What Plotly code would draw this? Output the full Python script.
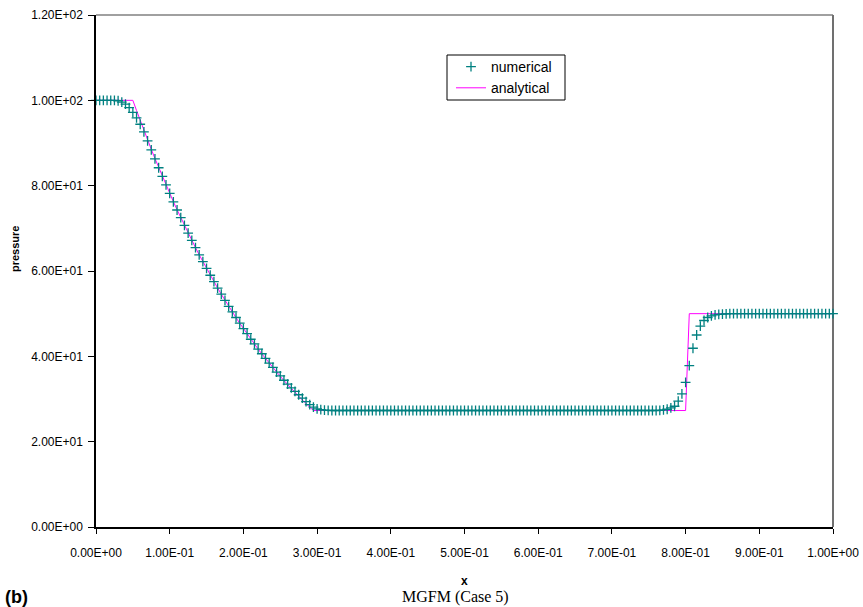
import numpy as np
import plotly.graph_objects as go

# ---------------- data ----------------
x_ticks = [0.0, 0.1, 0.2, 0.3, 0.4, 0.5, 0.6, 0.7, 0.8, 0.9, 1.0]
x_tick_labels = ["0.00E+00", "1.00E-01", "2.00E-01", "3.00E-01", "4.00E-01", "5.00E-01",
                 "6.00E-01", "7.00E-01", "8.00E-01", "9.00E-01", "1.00E+00"]
y_ticks = [0, 20, 40, 60, 80, 100, 120]
y_tick_labels = ["0.00E+00", "2.00E+01", "4.00E+01", "6.00E+01", "8.00E+01", "1.00E+02", "1.20E+02"]

# numerical solution: 201 cells on a uniform mesh over [0, 1]
x_num = np.linspace(0.0, 1.0, 201)
p_num = [
    100.0, 100.0, 100.0, 100.0, 100.0, 100.0, 99.9, 99.6, 99.1, 98.3,
    97.2, 95.9, 94.4, 92.6, 90.5, 88.4, 86.3, 84.2, 82.2, 80.2,
    78.2, 76.2, 74.3, 72.5, 70.7, 68.9, 67.2, 65.5, 63.8, 62.2,
    60.6, 59.0, 57.5, 56.0, 54.6, 53.1, 51.7, 50.4, 49.1, 47.8,
    46.5, 45.3, 44.0, 42.9, 41.7, 40.6, 39.5, 38.4, 37.4, 36.3,
    35.4, 34.4, 33.5, 32.6, 31.8, 31.0, 30.2, 29.4, 28.7, 28.1,
    27.7, 27.5, 27.4, 27.35, 27.3, 27.3, 27.3, 27.3, 27.3, 27.3,
    27.3, 27.3, 27.3, 27.3, 27.3, 27.3, 27.3, 27.3, 27.3, 27.3,
    27.3, 27.3, 27.3, 27.3, 27.3, 27.3, 27.3, 27.3, 27.3, 27.3,
    27.3, 27.3, 27.3, 27.3, 27.3, 27.3, 27.3, 27.3, 27.3, 27.3,
    27.3, 27.3, 27.3, 27.3, 27.3, 27.3, 27.3, 27.3, 27.3, 27.3,
    27.3, 27.3, 27.3, 27.3, 27.3, 27.3, 27.3, 27.3, 27.3, 27.3,
    27.3, 27.3, 27.3, 27.3, 27.3, 27.3, 27.3, 27.3, 27.3, 27.3,
    27.3, 27.3, 27.3, 27.3, 27.3, 27.3, 27.3, 27.3, 27.3, 27.3,
    27.3, 27.3, 27.3, 27.3, 27.3, 27.3, 27.3, 27.3, 27.3, 27.3,
    27.3, 27.3, 27.3, 27.35, 27.45, 27.6, 27.9, 28.3, 29.5, 31.2,
    33.9, 37.8, 41.9, 45.0, 47.1, 48.4, 49.1, 49.5, 49.7, 49.85,
    49.9, 49.95, 50.0, 50.0, 50.0, 50.0, 50.0, 50.0, 50.0, 50.0,
    50.0, 50.0, 50.0, 50.0, 50.0, 50.0, 50.0, 50.0, 50.0, 50.0,
    50.0, 50.0, 50.0, 50.0, 50.0, 50.0, 50.0, 50.0, 50.0, 50.0,
    50.0,
]

# analytical (exact) solution
x_ana = [0.0, 0.05, 0.055, 0.06, 0.065, 0.07, 0.075, 0.08, 0.085, 0.09, 0.095,
         0.10, 0.105, 0.11, 0.115, 0.12, 0.125, 0.13, 0.135, 0.14, 0.145,
         0.15, 0.155, 0.16, 0.165, 0.17, 0.175, 0.18, 0.185, 0.19, 0.195,
         0.20, 0.205, 0.21, 0.215, 0.22, 0.225, 0.23, 0.235, 0.24, 0.245,
         0.25, 0.255, 0.26, 0.265, 0.27, 0.275, 0.28, 0.285, 0.29, 0.295,
         0.80, 0.805, 1.0]
p_ana = [100.0, 100.0, 97.61, 95.26, 92.97, 90.72, 88.52, 86.36, 84.25, 82.19, 80.16,
         78.18, 76.25, 74.35, 72.49, 70.68, 68.90, 67.16, 65.46, 63.80, 62.17,
         60.58, 59.02, 57.50, 56.01, 54.56, 53.13, 51.74, 50.38, 49.06, 47.76,
         46.49, 45.25, 44.04, 42.85, 41.70, 40.57, 39.47, 38.39, 37.34, 36.31,
         35.31, 34.33, 33.37, 32.44, 31.53, 30.64, 29.77, 28.93, 28.10, 27.30,
         27.30, 50.0, 50.0]

# ---------------- figure ----------------
W, H = 863, 607
L, R, T, B = 96, 30, 15, 80
pw, ph = W - L - R, H - T - B


def px(xp):
    return (xp - L) / pw


def py(yp):
    return (H - B - yp) / ph


SANS = "Liberation Sans, Arial, sans-serif"

fig = go.Figure()
fig.add_trace(go.Scatter(
    x=x_ana, y=p_ana, mode="lines", name="analytical",
    line=dict(color="#FF00FF", width=1), legendrank=2, cliponaxis=False,
))
fig.add_trace(go.Scatter(
    x=x_num, y=p_num, mode="markers", name="numerical",
    marker=dict(symbol="cross-thin", size=7, line=dict(color="#008080", width=1.3), color="#008080"),
    legendrank=1, cliponaxis=False,
))

fig.update_layout(
    width=W, height=H,
    margin=dict(l=L, r=R, t=T, b=B, autoexpand=False),
    paper_bgcolor="white", plot_bgcolor="white",
    showlegend=True,
    legend=dict(
        x=px(451), y=py(51), xanchor="left", yanchor="top",
        borderwidth=0, bgcolor="rgba(0,0,0,0)",
        font=dict(family=SANS, size=14, color="black"),
        tracegroupgap=0,
    ),
    xaxis=dict(
        range=[0, 1], tickvals=x_ticks, ticktext=x_tick_labels,
        showgrid=False, zeroline=False, showline=True, linecolor="black", linewidth=1.5,
        ticks="outside", ticklen=5, tickcolor="black", tickwidth=1,
        tickfont=dict(family=SANS, size=12, color="black"), ticklabelstandoff=9,
    ),
    yaxis=dict(
        range=[0, 120], tickvals=y_ticks, ticktext=y_tick_labels,
        showgrid=False, zeroline=False, showline=True, linecolor="black", linewidth=1.5,
        ticks="outside", ticklen=6, tickcolor="black", tickwidth=1,
        tickfont=dict(family=SANS, size=12, color="black"),
        ticklabelstandoff=3,
    ),
    shapes=[
        dict(type="line", xref="paper", yref="paper", x0=0, x1=1, y0=1, y1=1,
             line=dict(color="#808080", width=1.5), layer="below"),
        dict(type="line", xref="paper", yref="paper", x0=1, x1=1, y0=0, y1=1,
             line=dict(color="#707070", width=2), layer="below"),
        # legend frame
        dict(type="rect", xref="paper", yref="paper",
             x0=px(447), x1=px(565), y0=py(100), y1=py(55),
             line=dict(color="black", width=1), fillcolor="white", layer="above"),
    ],
    annotations=[
        dict(text="<b>pressure</b>", xref="paper", yref="paper", x=px(15), y=py(249),
             textangle=-90, showarrow=False, xanchor="center", yanchor="middle",
             font=dict(family=SANS, size=11, color="black")),
        dict(text="<b>x</b>", xref="paper", yref="paper", x=px(464), y=py(581),
             showarrow=False, xanchor="center", yanchor="middle",
             font=dict(family=SANS, size=12, color="black")),
        dict(text="<b>(b)</b>", xref="paper", yref="paper", x=px(3), y=py(597),
             showarrow=False, xanchor="left", yanchor="middle",
             font=dict(family=SANS, size=18, color="black")),
        dict(text="MGFM (Case 5)", xref="paper", yref="paper", x=px(455), y=py(597),
             showarrow=False, xanchor="center", yanchor="middle",
             font=dict(family="Liberation Serif, Times New Roman, serif", size=16, color="black")),
    ],
)

fig.write_html("out.html")
